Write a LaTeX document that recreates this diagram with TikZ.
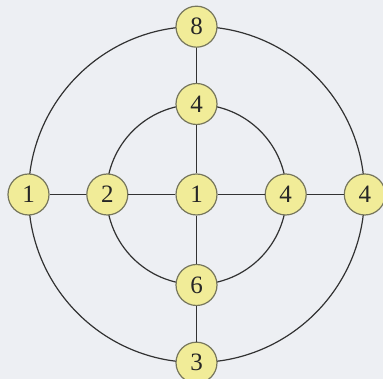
\documentclass[tikz,border=0pt]{standalone}
\usepackage{fontspec}
\newfontfamily\numfont{Liberation Serif}
\begin{document}
\begin{tikzpicture}[x=1pt,y=1pt,
  num/.style={circle,draw=nodeedge,line width=1.2pt,fill=nodefill,minimum size=41pt,inner sep=0pt,font=\numfont\fontsize{25}{25}\selectfont,text=black!85},
  link/.style={draw=linegray,line width=1.2pt}]
\definecolor{bg}{RGB}{237,239,243}
\definecolor{nodefill}{RGB}{241,236,152}
\definecolor{nodeedge}{RGB}{118,118,92}
\definecolor{linegray}{RGB}{50,50,50}
\fill[bg] (0,0) rectangle (383,379);
\useasboundingbox (0,0) rectangle (383,379);
\coordinate (c) at (196.5,184.5);
\draw[link] (c) circle (168);
\draw[link] (c) circle (90);
\node[num] (top) at (196.5,352.3) {8};
\node[num] (itop) at (196.5,275) {4};
\node[num] (ctr) at (196.5,184.5) {1};
\node[num] (ibot) at (196.5,94) {6};
\node[num] (bot) at (196.5,16.3) {3};
\node[num] (left) at (28.5,184.5) {1};
\node[num] (ileft) at (107.3,184.5) {2};
\node[num] (iright) at (285.7,184.5) {4};
\node[num] (right) at (364.8,184.5) {4};
\draw[link] (top) -- (itop);
\draw[link] (itop) -- (ctr);
\draw[link] (ctr) -- (ibot);
\draw[link] (ibot) -- (bot);
\draw[link] (left) -- (ileft);
\draw[link] (ileft) -- (ctr);
\draw[link] (ctr) -- (iright);
\draw[link] (iright) -- (right);
\end{tikzpicture}
\end{document}
